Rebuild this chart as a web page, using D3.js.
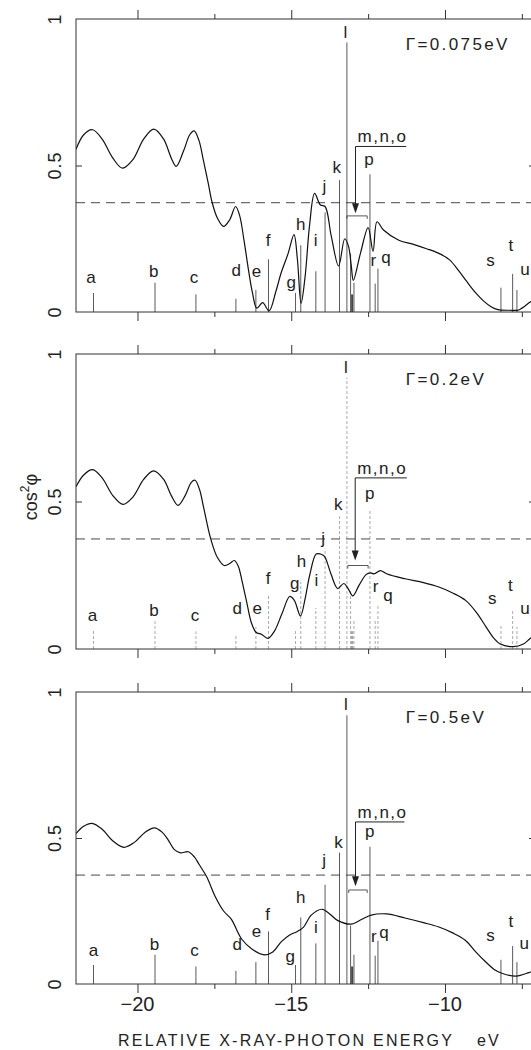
<!DOCTYPE html>
<html>
<head>
<meta charset="utf-8">
<script src="https://cdn.jsdelivr.net/npm/d3@7"></script>
<style>
  body { margin: 0; background: #fff; }
  text { font-family: "Liberation Sans", Arial, sans-serif; fill: #222; }
</style>
</head>
<body>
<div id="chart"></div>
<script>
// ---- data ----
const gammaLabels = ["\u0393=0.075eV", "\u0393=0.2eV", "\u0393=0.5eV"];
const gammaPos = [-11.28, 0.895];
const xMajor = [-20, -15, -10];
const xMinor = [-17.5, -12.5, -7.5];
const xTickLabels = ["\u221220", "\u221215", "\u221210"];
const yTicks = [0, 0.5, 1];
const yTickLabels = ["0", "0.5", "1"];
const refLevel = 0.373;

// stick spectrum (same in all panels)
const stickNames  = ["a","b","c","d","e","f","g","h","i","j","k","l","m","n","o","p","q","r","s","t","u"];
const stickEnergy = [-21.43,-19.43,-18.1,-16.8,-16.15,-15.74,-14.86,-14.69,-14.2,-13.9,-13.43,-13.19,-13.07,-13.02,-12.96,-12.44,-12.18,-12.27,-8.18,-7.8,-7.66];
const stickHeight = [0.065,0.1,0.06,0.045,0.075,0.18,0.065,0.228,0.139,0.34,0.45,0.92,0.2,0.06,0.1,0.47,0.148,0.097,0.083,0.13,0.075];

// broadened cos^2 phi curves
const curve075 = [[-22.0,0.555],[-21.75,0.605],[-21.46,0.622],[-21.15,0.59],[-20.8,0.525],[-20.49,0.491],
  [-20.15,0.52],[-19.8,0.59],[-19.47,0.624],[-19.15,0.59],[-18.9,0.525],[-18.74,0.497],[-18.5,0.55],
  [-18.3,0.605],[-18.16,0.618],[-18.0,0.585],[-17.86,0.519],[-17.7,0.44],[-17.58,0.377],[-17.4,0.32],
  [-17.2,0.292],[-17.0,0.315],[-16.81,0.36],[-16.68,0.33],[-16.54,0.247],[-16.4,0.15],[-16.26,0.065],
  [-16.12,0.013],[-15.93,0.032],[-15.72,0.004],[-15.5,0.07],[-15.33,0.133],[-15.1,0.2],[-14.91,0.264],
  [-14.8,0.18],[-14.68,0.03],[-14.55,0.12],[-14.4,0.3],[-14.24,0.405],[-14.05,0.365],[-13.9,0.36],
  [-13.7,0.26],[-13.46,0.157],[-13.26,0.25],[-13.14,0.225],[-13.05,0.16],[-12.98,0.108],[-12.75,0.2],
  [-12.5,0.288],[-12.34,0.207],[-12.21,0.308],[-12.0,0.28],[-11.5,0.245],[-11.0,0.23],[-10.6,0.216],
  [-10.2,0.2],[-9.85,0.178],[-9.55,0.14],[-9.3,0.105],[-9.0,0.065],[-8.75,0.038],[-8.5,0.018],[-8.28,0.008],
  [-7.9,0.006],[-7.6,0.007],[-7.23,0.034],[-7.0,0.05]];
const curve02 = [[-22.0,0.55],[-21.75,0.59],[-21.46,0.608],[-21.15,0.58],[-20.8,0.52],[-20.47,0.49],
  [-20.15,0.515],[-19.8,0.575],[-19.48,0.604],[-19.15,0.575],[-18.9,0.52],[-18.68,0.487],[-18.45,0.52],
  [-18.25,0.565],[-18.13,0.572],[-17.98,0.54],[-17.85,0.48],[-17.62,0.374],[-17.4,0.31],[-17.18,0.283],
  [-17.0,0.29],[-16.85,0.3],[-16.72,0.28],[-16.6,0.23],[-16.45,0.16],[-16.3,0.09],[-16.14,0.056],
  [-15.97,0.05],[-15.76,0.036],[-15.55,0.06],[-15.3,0.12],[-15.05,0.178],[-14.9,0.165],[-14.7,0.112],
  [-14.55,0.17],[-14.4,0.25],[-14.19,0.322],[-14.05,0.322],[-13.92,0.314],[-13.71,0.255],[-13.49,0.205],
  [-13.29,0.222],[-13.15,0.205],[-13.0,0.18],[-12.8,0.215],[-12.56,0.253],[-12.42,0.258],[-12.3,0.255],
  [-12.1,0.266],[-11.9,0.255],[-11.3,0.238],[-10.7,0.225],[-10.2,0.21],[-9.75,0.19],[-9.32,0.164],
  [-8.95,0.12],[-8.66,0.074],[-8.4,0.035],[-8.22,0.018],[-7.78,0.008],[-7.45,0.017],[-7.25,0.034],[-7.0,0.055]];
const curve05 = [[-22.0,0.515],[-21.75,0.54],[-21.48,0.55],[-21.15,0.53],[-20.8,0.49],[-20.44,0.468],
  [-20.1,0.485],[-19.75,0.52],[-19.45,0.535],[-19.2,0.52],[-19.0,0.493],[-18.8,0.46],[-18.6,0.449],
  [-18.35,0.453],[-18.15,0.435],[-18.0,0.41],[-17.75,0.367],[-17.47,0.299],[-17.2,0.25],[-16.95,0.222],
  [-16.62,0.155],[-16.26,0.118],[-15.88,0.1],[-15.6,0.11],[-15.32,0.145],[-15.05,0.168],[-14.8,0.18],
  [-14.6,0.195],[-14.35,0.236],[-14.0,0.256],[-13.75,0.24],[-13.48,0.217],[-13.05,0.205],[-12.75,0.219],
  [-12.4,0.236],[-11.9,0.24],[-11.3,0.226],[-10.7,0.21],[-10.22,0.196],[-9.75,0.175],[-9.34,0.15],
  [-9.0,0.11],[-8.68,0.076],[-8.4,0.05],[-8.13,0.036],[-7.69,0.027],[-7.27,0.039],[-7.0,0.05]];

// letter labels: [energy, baseline value] per panel
const labelNames = ["a","b","c","d","e","f","g","h","i","j","k","l","p","r","q","s","t","u"];
const labels075 = [[-21.51,0.099],[-19.47,0.119],[-18.16,0.099],[-16.79,0.122],[-16.13,0.119],[-15.75,0.224],
  [-15.0,0.082],[-14.69,0.281],[-14.21,0.224],[-13.92,0.411],[-13.52,0.474],[-13.24,0.934],[-12.47,0.502],
  [-12.33,0.156],[-11.92,0.167],[-8.52,0.156],[-7.86,0.207],[-7.4,0.127]];
const labels02 = [[-21.46,0.096],[-19.46,0.113],[-18.13,0.096],[-16.76,0.119],[-16.11,0.117],[-15.75,0.221],
  [-14.89,0.204],[-14.67,0.277],[-14.18,0.215],[-13.96,0.357],[-13.47,0.472],[-13.22,0.934],[-12.45,0.51],
  [-12.26,0.193],[-11.85,0.162],[-8.46,0.151],[-7.87,0.198],[-7.4,0.119]];
const labels05 = [[-21.43,0.096],[-19.45,0.116],[-18.15,0.096],[-16.76,0.116],[-16.13,0.162],[-15.77,0.219],
  [-15.03,0.076],[-14.69,0.276],[-14.2,0.176],[-13.93,0.404],[-13.46,0.467],[-13.22,0.937],[-12.45,0.504],
  [-12.31,0.145],[-11.98,0.156],[-8.52,0.148],[-7.86,0.196],[-7.42,0.119]];

// m,n,o arrow: [x of arrow, right end, line value, tip value, bracket x0, bracket x1, bracket value]
const mnoText = "m,n,o";
const arrow075 = [-12.91, -11.26, 0.565, 0.337, -13.19, -12.53, 0.328];
const arrow02  = [-12.92, -11.24, 0.58, 0.30, -13.16, -12.5, 0.283];
const arrow05  = [-12.91, -11.32, 0.555, 0.335, -13.13, -12.53, 0.322];

const curves = [curve075, curve02, curve05];
const labelSets = [labels075, labels02, labels05];
const arrows = [arrow075, arrow02, arrow05];

// ---- layout ----
const width = 531, height = 1050;
const panelTop = [19, 354, 692], panelBottom = [312, 649, 984];

const svg = d3.select("#chart").append("svg")
  .attr("width", width).attr("height", height);

const x = d3.scaleLinear().domain([-22, -7.04]).range([76, 536]);

svg.append("defs").append("clipPath").attr("id", "plotclip")
  .append("rect").attr("x", 76).attr("y", 0).attr("width", 460).attr("height", height);

const line = d3.line().curve(d3.curveCatmullRom.alpha(0.5));

curves.forEach(function (curve, p) {
  const y = d3.scaleLinear().domain([0, 1]).range([panelBottom[p], panelTop[p]]);
  const g = svg.append("g");

  // sticks (the middle panel is printed very faintly)
  g.append("g").attr("clip-path", "url(#plotclip)")
    .selectAll("line").data(stickEnergy).join("line")
    .attr("x1", d => x(d)).attr("x2", d => x(d))
    .attr("y1", y(0)).attr("y2", (d, i) => y(stickHeight[i]))
    .attr("stroke", "#333")
    .attr("stroke-width", (d, i) => stickNames[i] === "n" ? 2 : 0.9)
    .attr("stroke-dasharray", p === 1 ? "3,2" : null)
    .attr("opacity", p === 1 ? 0.45 : 0.9);

  // reference level
  g.append("line")
    .attr("x1", x(-22)).attr("x2", x(-7.04))
    .attr("y1", y(refLevel)).attr("y2", y(refLevel))
    .attr("stroke", "#333").attr("stroke-width", 0.9)
    .attr("stroke-dasharray", "9,6");

  // curve
  g.append("path").datum(curve)
    .attr("clip-path", "url(#plotclip)")
    .attr("fill", "none").attr("stroke", "#111").attr("stroke-width", 1.2)
    .attr("d", line.x(d => x(d[0])).y(d => y(d[1])));

  // frame
  g.append("rect")
    .attr("x", x(-22)).attr("y", y(1))
    .attr("width", x(-7.04) - x(-22)).attr("height", y(0) - y(1))
    .attr("fill", "none").attr("stroke", "#333").attr("stroke-width", 1);

  // x axes (top and bottom, ticks outward)
  [[d3.axisBottom, y(0)], [d3.axisTop, y(1)]].forEach(function (a) {
    const major = g.append("g").attr("transform", `translate(0,${a[1]})`)
      .call(a[0](x).tickValues(xMajor).tickSize(9).tickFormat(""));
    const minor = g.append("g").attr("transform", `translate(0,${a[1]})`)
      .call(a[0](x).tickValues(xMinor).tickSize(5).tickFormat(""));
    [major, minor].forEach(ax => {
      ax.select(".domain").remove();
      ax.selectAll("line").attr("stroke", "#333");
    });
  });

  // y ticks at 0.5, inward on both sides
  const yl = g.append("g").attr("transform", `translate(${x(-22)},0)`)
    .call(d3.axisRight(y).tickValues([0.5]).tickSize(6).tickFormat(""));
  const yr = g.append("g").attr("transform", `translate(${x(-7.04)},0)`)
    .call(d3.axisLeft(y).tickValues([0.5]).tickSize(7).tickFormat(""));
  [yl, yr].forEach(ax => { ax.select(".domain").remove(); ax.selectAll("line").attr("stroke", "#333"); });

  // y tick labels (rotated)
  g.selectAll(".ylab").data(yTicks).join("text")
    .attr("transform", d => `translate(61,${y(d)}) rotate(-90)`)
    .attr("text-anchor", "middle")
    .attr("font-size", 18).attr("letter-spacing", 1)
    .text((d, i) => yTickLabels[i]);

  // letter labels
  g.selectAll(".lab").data(labelSets[p]).join("text")
    .attr("x", d => x(d[0])).attr("y", d => y(d[1]))
    .attr("text-anchor", "middle").attr("font-size", 17)
    .text((d, i) => labelNames[i]);

  // gamma label
  g.append("text")
    .attr("x", x(gammaPos[0])).attr("y", y(gammaPos[1]))
    .attr("font-size", 17).attr("letter-spacing", 2.4)
    .text(gammaLabels[p]);

  // m,n,o annotation
  const a = arrows[p];
  g.append("text")
    .attr("x", x(a[0]) + 2).attr("y", y(a[2]) - 4)
    .attr("font-size", 17).attr("letter-spacing", 1.5)
    .text(mnoText);
  g.append("path")
    .attr("d", `M${x(a[1])},${y(a[2])}H${x(a[0])}V${y(a[3]) - 8}`)
    .attr("fill", "none").attr("stroke", "#222").attr("stroke-width", 1);
  g.append("path")
    .attr("d", `M${x(a[0]) - 3.5},${y(a[3]) - 10}L${x(a[0]) + 3.5},${y(a[3]) - 10}L${x(a[0])},${y(a[3])}Z`)
    .attr("fill", "#222");
  g.append("path")
    .attr("d", `M${x(a[4])},${y(a[6]) + 3}V${y(a[6])}H${x(a[5])}V${y(a[6]) + 3}`)
    .attr("fill", "none").attr("stroke", "#444").attr("stroke-width", 0.9);

  // x tick labels on the last panel only
  if (p === 2) {
    g.selectAll(".xlab").data(xMajor).join("text")
      .attr("x", d => x(d)).attr("y", y(0) + 27)
      .attr("text-anchor", "middle").attr("font-size", 20)
      .text((d, i) => xTickLabels[i]);
  }
});

// axis titles
svg.append("text")
  .attr("x", 118).attr("y", 1046)
  .attr("font-size", 16).attr("textLength", 334).attr("lengthAdjust", "spacing")
  .text("RELATIVE X-RAY-PHOTON ENERGY");
svg.append("text")
  .attr("x", 477).attr("y", 1046)
  .attr("font-size", 16).attr("letter-spacing", 2)
  .text("eV");

svg.append("text")
  .attr("transform", "translate(37,497) rotate(-90)")
  .attr("text-anchor", "middle").attr("font-size", 18)
  .html('cos<tspan dy="-8" font-size="12">2</tspan><tspan dy="8">\u03c6</tspan>');
</script>
</body>
</html>
